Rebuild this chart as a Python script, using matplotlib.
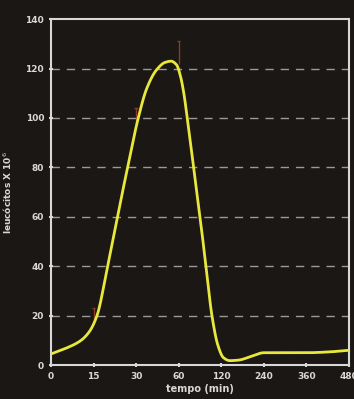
import matplotlib
matplotlib.use("Agg")
import matplotlib.pyplot as plt
import numpy as np

# categories on x axis (evenly spaced positions)
time_labels = ["0", "15", "30", "60", "120", "240", "360", "480"]
y_ticks = [0, 20, 40, 60, 80, 100, 120, 140]

# curve samples (position in category index units, value)
curve_pos = [0.0, 0.35, 0.69, 0.9, 1.08, 1.33, 1.56, 1.8, 2.05, 2.25, 2.48, 2.68, 2.82, 2.95, 3.04, 3.12, 3.2, 3.35, 3.5, 3.64, 3.78, 3.92, 4.05, 4.2, 4.4, 4.7, 5.0, 6.0, 6.5, 7.0]
curve_val = [4.5, 6.8, 9.8, 13.5, 20.0, 40.0, 60.0, 80.0, 100.0, 112.0, 119.5, 122.5, 123.0, 121.5, 117.0, 110.0, 100.0, 80.0, 60.0, 40.0, 20.0, 8.0, 3.0, 1.8, 2.0, 3.5, 5.0, 5.0, 5.3, 6.0]

# error bars (category index, low, high)
err_pos = [1, 2, 3]
err_low = [17.0, 98.0, 122.0]
err_high = [23.0, 104.0, 131.0]

bg = "#1a1714"
fg = "#d8d8d8"

fig = plt.figure(figsize=(3.54, 3.99), dpi=100, facecolor=bg)
ax = fig.add_axes([0.144, 0.085, 0.842, 0.867], facecolor=bg)

for yv in y_ticks[1:-1]:
    ax.axhline(yv, color="#9a9a9a", lw=1.0, dashes=(6, 5), zorder=1)

ax.vlines(err_pos, err_low, err_high, color="#8a3a2a", lw=1.0, zorder=2)
ax.hlines(err_high, np.array(err_pos) - 0.04, np.array(err_pos) + 0.04, color="#8a3a2a", lw=1.0, zorder=2)

# smooth rendering through the read samples (monotone cubic, Fritsch-Carlson)
p = np.array(curve_pos, float)
v = np.array(curve_val, float)
h = np.diff(p)
d = np.diff(v) / h
m = np.zeros_like(v)
m[0], m[-1] = d[0], d[-1]
for i in range(1, len(v) - 1):
    if d[i - 1] * d[i] <= 0:
        m[i] = 0.0
    else:
        w1 = 2 * h[i] + h[i - 1]
        w2 = h[i] + 2 * h[i - 1]
        m[i] = (w1 + w2) / (w1 / d[i - 1] + w2 / d[i])
xs, ys = [], []
for i in range(len(p) - 1):
    t = np.linspace(0, 1, 20, endpoint=False)
    h00 = 2 * t**3 - 3 * t**2 + 1
    h10 = t**3 - 2 * t**2 + t
    h01 = -2 * t**3 + 3 * t**2
    h11 = t**3 - t**2
    xs.extend(p[i] + t * h[i])
    ys.extend(h00 * v[i] + h10 * h[i] * m[i] + h01 * v[i + 1] + h11 * h[i] * m[i + 1])
xs.append(p[-1]); ys.append(v[-1])
ax.plot(xs, ys, color="#e8e83c", lw=2.0, zorder=3, solid_capstyle="round")

ax.set_xlim(0, 7)
ax.set_ylim(0, 140)
ax.set_xticks(range(len(time_labels)))
ax.set_xticklabels(time_labels)
ax.set_yticks(y_ticks)

for s in ax.spines.values():
    s.set_color(fg)
    s.set_linewidth(1.5)

ax.tick_params(axis="both", colors=fg, labelsize=6.5, width=1.5, length=3, direction="inout")
for lab in ax.get_xticklabels() + ax.get_yticklabels():
    lab.set_fontweight("bold")

ax.set_xlabel("tempo (min)", color=fg, fontsize=7, fontweight="bold", labelpad=2)
ax.set_ylabel("leucócitos X 10$^6$", color=fg, fontsize=6.5, fontweight="bold", labelpad=8)

fig.savefig("out.png", dpi=100, facecolor=bg)
